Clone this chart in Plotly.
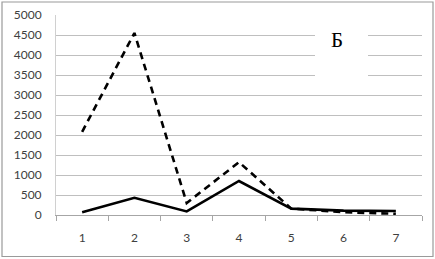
import plotly.graph_objects as go

categories = ["1", "2", "3", "4", "5", "6", "7"]
solid_values = [70, 430, 90, 850, 160, 110, 100]
dashed_values = [2080, 4550, 300, 1320, 160, 70, 30]
y_ticks = [0, 500, 1000, 1500, 2000, 2500, 3000, 3500, 4000, 4500, 5000]
label_text = "Б"

W, H = 435, 259
L, R, T, B = 56, 13, 15, 44
pw, ph = W - L - R, H - T - B

def px_x(x):
    return (x - L) / pw

def px_y(y):
    return (H - B - y) / ph

fig = go.Figure()
fig.add_trace(go.Scatter(x=categories, y=dashed_values, mode="lines",
                         line=dict(color="black", width=2.6, dash="7px,5px"),
                         showlegend=False))
fig.add_trace(go.Scatter(x=categories, y=solid_values, mode="lines",
                         line=dict(color="black", width=2.6),
                         showlegend=False))

fig.update_layout(
    width=W, height=H,
    margin=dict(l=L, r=R, t=T, b=B, autoexpand=False),
    paper_bgcolor="white", plot_bgcolor="white",
    font=dict(family="Lato, Open Sans, sans-serif", size=12, color="#404040"),
    xaxis=dict(type="category", range=[-0.5, 6.5], tickson="boundaries",
               ticks="outside", ticklen=5, tickcolor="#a6a6a6",
               showline=True, linecolor="#a6a6a6", linewidth=1,
               showgrid=False, ticklabelstandoff=12, automargin=False,
               tickfont=dict(size=12)),
    yaxis=dict(range=[0, 5000], tickvals=y_ticks,
               showgrid=True, gridcolor="#bfbfbf", gridwidth=1,
               showline=True, linecolor="#d0d0d0", linewidth=1,
               zeroline=False, ticks="", ticklabelstandoff=11, automargin=False,
               tickfont=dict(size=12)),
    shapes=[
        dict(type="rect", xref="paper", yref="paper",
             x0=px_x(2), x1=px_x(433), y0=px_y(2), y1=px_y(256.5),
             line=dict(color="#9a9a9a", width=1.2), layer="above"),
        dict(type="rect", xref="paper", yref="paper",
             x0=px_x(315), x1=px_x(368), y0=px_y(26), y1=px_y(86),
             fillcolor="white", line=dict(width=0), layer="above"),
    ],
    annotations=[
        dict(text=label_text, xref="paper", yref="paper",
             x=px_x(336.5), y=px_y(40), xanchor="center", yanchor="middle",
             showarrow=False,
             font=dict(family="Liberation Serif, Times New Roman, serif", size=21, color="black")),
    ],
)

fig.write_html("out.html", config={"displayModeBar": False},
               post_script="document.body.style.margin='0';")
